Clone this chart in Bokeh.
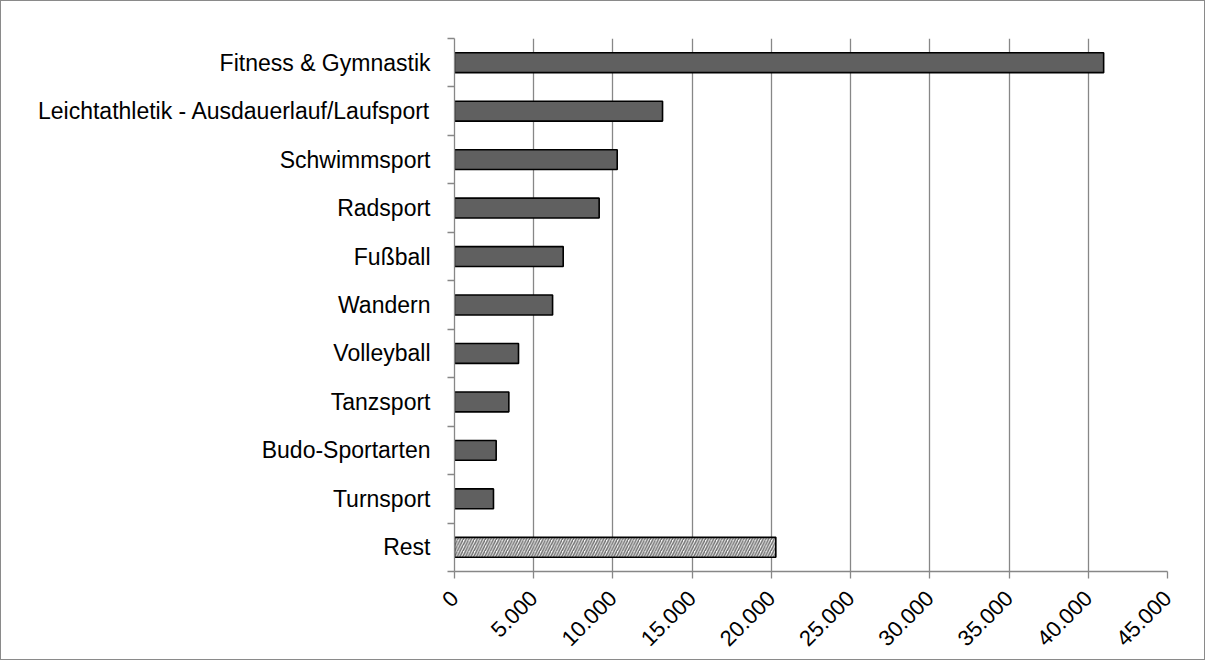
import math
from bokeh.plotting import figure
from bokeh.models import ColumnDataSource, FixedTicker, Range1d
from bokeh.embed import file_html
from bokeh.resources import INLINE

categories = ["Fitness & Gymnastik", "Leichtathletik - Ausdauerlauf/Laufsport", "Schwimmsport",
              "Radsport", "Fußball", "Wandern", "Volleyball", "Tanzsport", "Budo-Sportarten",
              "Turnsport", "Rest"]
values = [40970, 13130, 10270, 9130, 6860, 6190, 4040, 3430, 2630, 2460, 20280]
x_ticks = [0, 5000, 10000, 15000, 20000, 25000, 30000, 35000, 40000, 45000]
x_tick_labels = ["0", "5.000", "10.000", "15.000", "20.000", "25.000", "30.000", "35.000", "40.000", "45.000"]

n = len(categories)
ypos = [n - i - 0.5 for i in range(n)]

main = ColumnDataSource(dict(y=ypos[:-1], v=values[:-1]))
rest = ColumnDataSource(dict(y=ypos[-1:], v=values[-1:]))

FONT = "Liberation Sans"
GRID = "#878787"

p = figure(width=1205, height=660, output_backend="svg", toolbar_location=None,
           x_range=Range1d(0, 45000), y_range=Range1d(0, n),
           min_border_left=453, min_border_right=39, min_border_top=37, min_border_bottom=90)
p.styles = {"border": "1px solid #8a8a8a"}
p.outline_line_color = None
p.background_fill_color = "white"
p.border_fill_color = "white"

p.hbar(y="y", right="v", left=0, height=0.41, source=main,
       fill_color="#606060", line_color="black", line_width=1.6)
p.hbar(y="y", right="v", left=0, height=0.41, source=rest,
       fill_color="#f4f4f4", line_color="black", line_width=1.6,
       hatch_pattern="right_diagonal_line", hatch_color="#6f6f6f", hatch_weight=1.5, hatch_scale=5.5)

# x axis
xa = p.xaxis[0]
xa.ticker = FixedTicker(ticks=x_ticks, minor_ticks=[])
xa.major_label_overrides = {t: l for t, l in zip(x_ticks, x_tick_labels)}
xa.major_label_orientation = math.pi / 4
xa.major_label_text_font = FONT
xa.major_label_text_font_size = "22px"
xa.major_label_text_color = "black"
xa.major_label_standoff = 16
xa.axis_line_color = GRID
xa.axis_line_width = 1.3
xa.major_tick_line_color = GRID
xa.major_tick_line_width = 1.3
xa.major_tick_out = 7
xa.major_tick_in = 0
xa.minor_tick_line_color = None

# y axis
ya = p.yaxis[0]
ya.ticker = FixedTicker(ticks=ypos, minor_ticks=[float(i) for i in range(n + 1)])
ya.major_label_overrides = {y: c for y, c in zip(ypos, categories)}
ya.major_label_text_font = FONT
ya.major_label_text_font_size = "23px"
ya.major_label_text_color = "black"
ya.major_label_standoff = 17
ya.axis_line_color = GRID
ya.axis_line_width = 1.3
ya.major_tick_line_color = None
ya.major_tick_out = 0
ya.major_tick_in = 0
ya.minor_tick_line_color = GRID
ya.minor_tick_line_width = 1.3
ya.minor_tick_out = 7
ya.minor_tick_in = 0

p.xgrid.grid_line_color = GRID
p.xgrid.grid_line_width = 1.3
p.ygrid.grid_line_color = None

open("out.html", "w").write(file_html(p, INLINE))
